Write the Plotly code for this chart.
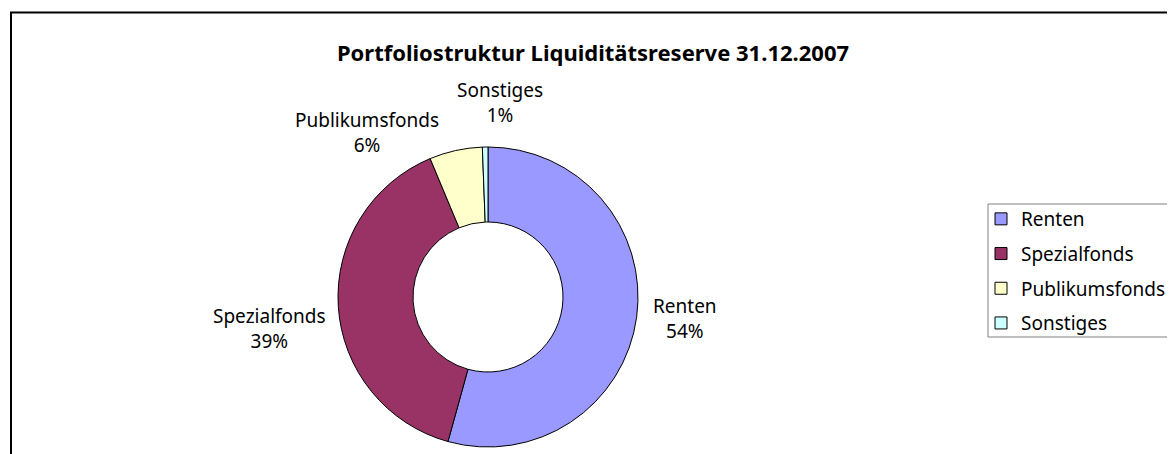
import plotly.graph_objects as go

# data
categories = ['Renten', 'Spezialfonds', 'Publikumsfonds', 'Sonstiges']
shares = [54.3, 39.4, 5.7, 0.6]
colors = ['#9999FF', '#993366', '#FFFFCC', '#CCFFFF']

W, H = 1175, 454
font_family = 'Noto Sans'

fig = go.Figure()
fig.add_trace(
    go.Pie(
        labels=categories,
        values=shares,
        hole=0.5,
        sort=False,
        direction='clockwise',
        rotation=0,
        marker=dict(colors=colors, line=dict(color='black', width=1)),
        textinfo='none',
        showlegend=False,
        domain=dict(x=[330 / W, 630 / W], y=[15 / H, 315 / H]),
    )
)

# legend entries (one group each so the rows get Excel-like spacing)
for name, col in zip(categories, colors):
    fig.add_trace(
        go.Scatter(
            x=[None], y=[None],
            mode='markers',
            name=name,
            legendgroup=name,
            marker=dict(symbol='square', size=12, color=col,
                        line=dict(color='black', width=1)),
        )
    )

# data labels placed like Excel's outside labels (pixel positions in the figure)
label_pos = {
    'Renten': (677, 310),
    'Spezialfonds': (261, 320),
    'Publikumsfonds': (359, 124),
    'Sonstiges': (492, 95),
}
total = sum(shares)
for name, value in zip(categories, shares):
    px_x, px_y = label_pos[name]
    fig.add_annotation(
        x=px_x / W, y=1 - px_y / H,
        xref='paper', yref='paper',
        xanchor='center', yanchor='middle',
        text=f'{name}<br>{round(value / total * 100)}%',
        showarrow=False,
        font=dict(family=font_family, size=19, color='black'),
    )

# outer chart frame (Excel-style chart area border)
fig.add_shape(
    type='rect',
    xref='paper', yref='paper',
    x0=3 / W, x1=1.05, y0=-0.05, y1=1 - 4.5 / H,
    line=dict(color='black', width=2),
)
# legend box
fig.add_shape(
    type='rect',
    xref='paper', yref='paper',
    x0=980 / W, x1=1.05, y0=1 - 329 / H, y1=1 - 196 / H,
    line=dict(color='#808080', width=1),
)

fig.update_layout(
    width=W,
    height=H,
    margin=dict(l=0, r=0, t=0, b=0),
    paper_bgcolor='white',
    plot_bgcolor='white',
    xaxis=dict(visible=False),
    yaxis=dict(visible=False),
    title=dict(
        text='<b>Portfoliostruktur Liquiditätsreserve 31.12.2007</b>',
        x=585 / W, xanchor='center',
        y=1 - 45 / H, yanchor='middle',
        font=dict(family=font_family, size=22, color='black'),
    ),
    showlegend=True,
    legend=dict(
        x=973 / W, xanchor='left',
        y=1 - 192 / H, yanchor='top',
        borderwidth=0,
        bgcolor='rgba(0,0,0,0)',
        font=dict(family=font_family, size=19, color='black'),
        traceorder='grouped',
        tracegroupgap=7,
    ),
)

fig.write_html('out.html')
